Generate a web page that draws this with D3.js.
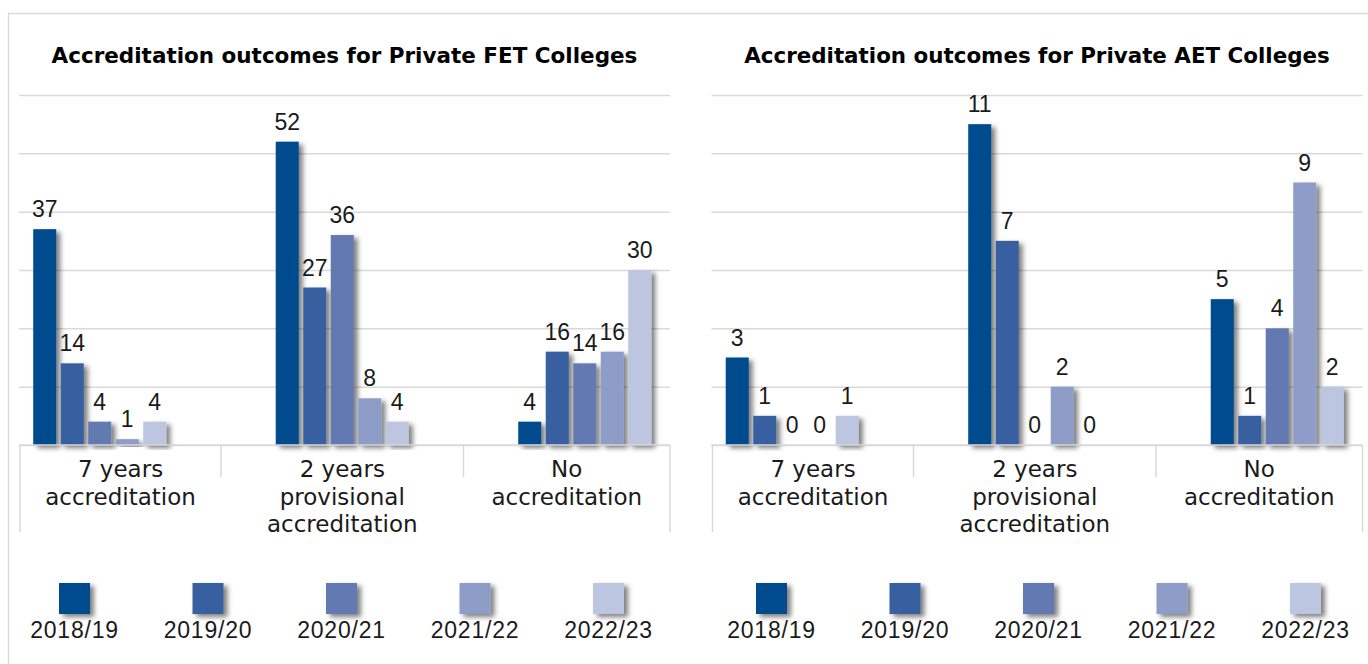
<!DOCTYPE html>
<html>
<head>
<meta charset="utf-8">
<script src="https://cdn.jsdelivr.net/npm/d3@7"></script>
<style>
  html, body { margin: 0; padding: 0; background: #ffffff; }
  svg { display: block; }
</style>
</head>
<body>
<svg id="chart" width="1368" height="664"></svg>
<script>
// ---------- DATA ----------
const categories = ["7 years accreditation", "2 years provisional accreditation", "No accreditation"];
const categoryLines = [["7 years", "accreditation"], ["2 years", "provisional", "accreditation"], ["No", "accreditation"]];
const series = ["2018/19", "2019/20", "2020/21", "2021/22", "2022/23"];

// FET values per category (one value per series)
const fet7Years = [37, 14, 4, 1, 4];
const fet2Years = [52, 27, 36, 8, 4];
const fetNone   = [4, 16, 14, 16, 30];
// AET values per category
const aet7Years = [3, 1, 0, 0, 1];
const aet2Years = [11, 7, 0, 2, 0];
const aetNone   = [5, 1, 4, 9, 2];

const fetTicks = [0, 10, 20, 30, 40, 50, 60];
const aetTicks = [0, 2, 4, 6, 8, 10, 12];

const fetTitle = "Accreditation outcomes for Private FET Colleges";
const aetTitle = "Accreditation outcomes for Private AET Colleges";

// ---------- STYLE ----------
const colors = ["#004b8d", "#3760a0", "#6279b1", "#8d9dc8", "#bdc6e0"];
const gridColor = "#d9d9d9";
const textColor = "#1a1a1a";

const svg = d3.select("#chart");
const defs = svg.append("defs");
const f = defs.append("filter").attr("id", "shadow")
  .attr("x", "-50%").attr("y", "-20%").attr("width", "200%").attr("height", "140%");
f.append("feDropShadow").attr("dx", 4).attr("dy", 3).attr("stdDeviation", 2.8)
  .attr("flood-color", "#000").attr("flood-opacity", 0.5);

// outer frame
svg.append("line").attr("x1", 8).attr("x2", 1368).attr("y1", 13.5).attr("y2", 13.5)
  .attr("stroke", gridColor).attr("stroke-width", 1.5);
svg.append("line").attr("x1", 8.5).attr("x2", 8.5).attr("y1", 13).attr("y2", 664)
  .attr("stroke", gridColor).attr("stroke-width", 1.5);

function drawChart(offsetX, legendOffsetX, title, rows, ticks) {
  const g = svg.append("g").attr("transform", `translate(${offsetX},0)`);
  const plotLeft = 19, plotRight = 670, plotTop = 95, plotBottom = 445;

  // title, fitted to the reference width
  const t = g.append("text").attr("x", (plotLeft + plotRight) / 2).attr("y", 63)
    .attr("text-anchor", "middle").attr("font-family", "DejaVu Sans")
    .attr("font-weight", "bold").attr("font-size", 20).attr("fill", "#000")
    .text(title);
  const w = t.node().getComputedTextLength();
  t.attr("font-size", 20 * 586 / w);

  const y = d3.scaleLinear().domain([ticks[0], ticks[ticks.length - 1]]).range([plotBottom, plotTop]);
  const x0 = d3.scaleBand().domain(categories).range([-21.5, 706]);
  const x1 = d3.scaleBand().domain(series).range([0, x0.bandwidth()])
    .paddingInner(0.1636).paddingOuter(1.99);

  // gridlines
  const grid = g.append("g").attr("transform", `translate(${plotLeft},0)`)
    .call(d3.axisLeft(y).tickValues(ticks).tickSize(-(plotRight - plotLeft)).tickFormat(""));
  grid.select(".domain").remove();
  grid.selectAll(".tick line").attr("stroke", gridColor).attr("stroke-width", 1.5);

  // bars
  const groups = g.selectAll("g.cat").data(categories).join("g").attr("class", "cat")
    .attr("transform", d => `translate(${x0(d)},0)`);
  groups.each(function (cat, ci) {
    const vals = rows[ci].map((v, si) => ({ s: series[si], v, c: colors[si] }));
    const gg = d3.select(this);
    gg.selectAll("rect").data(vals.filter(d => d.v > 0)).join("rect")
      .attr("x", d => x1(d.s)).attr("width", x1.bandwidth())
      .attr("y", d => y(d.v)).attr("height", d => y(0) - y(d.v))
      .attr("fill", d => d.c).attr("filter", "url(#shadow)");
    gg.selectAll("text").data(vals).join("text")
      .attr("x", d => x1(d.s) + x1.bandwidth() / 2).attr("y", d => y(d.v) - 12)
      .attr("text-anchor", "middle").attr("font-family", "Liberation Sans")
      .attr("font-size", 23).attr("fill", textColor).text(d => d.v);
  });

  // category axis: baseline + separators
  g.append("line").attr("x1", plotLeft).attr("x2", plotRight)
    .attr("y1", plotBottom).attr("y2", plotBottom).attr("stroke", gridColor).attr("stroke-width", 1.5);
  const seps = [plotLeft + 1, ...categories.slice(1).map(c => x0(c)), plotRight];
  g.selectAll("line.sep").data(seps).join("line").attr("class", "sep")
    .attr("x1", d => d).attr("x2", d => d)
    .attr("y1", plotBottom).attr("y2", (d, i) => (i === 0 || i === seps.length - 1) ? 532 : 477)
    .attr("stroke", gridColor).attr("stroke-width", 1.5);

  categories.forEach((c, i) => {
    const cx = (seps[i] + seps[i + 1]) / 2;
    const txt = g.append("text").attr("x", cx).attr("y", 477)
      .attr("text-anchor", "middle").attr("font-family", "DejaVu Sans")
      .attr("font-size", 23).attr("fill", textColor);
    categoryLines[i].forEach((line, li) => {
      txt.append("tspan").attr("x", cx).attr("dy", li === 0 ? 0 : 27.5).text(line);
    });
  });

  // legend
  const lg = svg.append("g").attr("transform", `translate(${legendOffsetX},0)`);
  const lx = d3.scaleBand().domain(series).range([7.75, 675.25]);
  const items = lg.selectAll("g.leg").data(series).join("g").attr("class", "leg")
    .attr("transform", d => `translate(${lx(d) + lx.bandwidth() / 2},0)`);
  items.append("rect").attr("x", -15.5).attr("y", 583).attr("width", 31).attr("height", 31)
    .attr("fill", (d, i) => colors[i]).attr("filter", "url(#shadow)");
  items.append("text").attr("x", 0).attr("y", 638).attr("text-anchor", "middle")
    .attr("font-family", "Liberation Sans").attr("font-size", 23).attr("letter-spacing", 0.8)
    .attr("fill", textColor).text(d => d);
}

drawChart(0, 0, fetTitle, [fet7Years, fet2Years, fetNone], fetTicks);
drawChart(692.5, 697, aetTitle, [aet7Years, aet2Years, aetNone], aetTicks);
</script>
</body>
</html>
